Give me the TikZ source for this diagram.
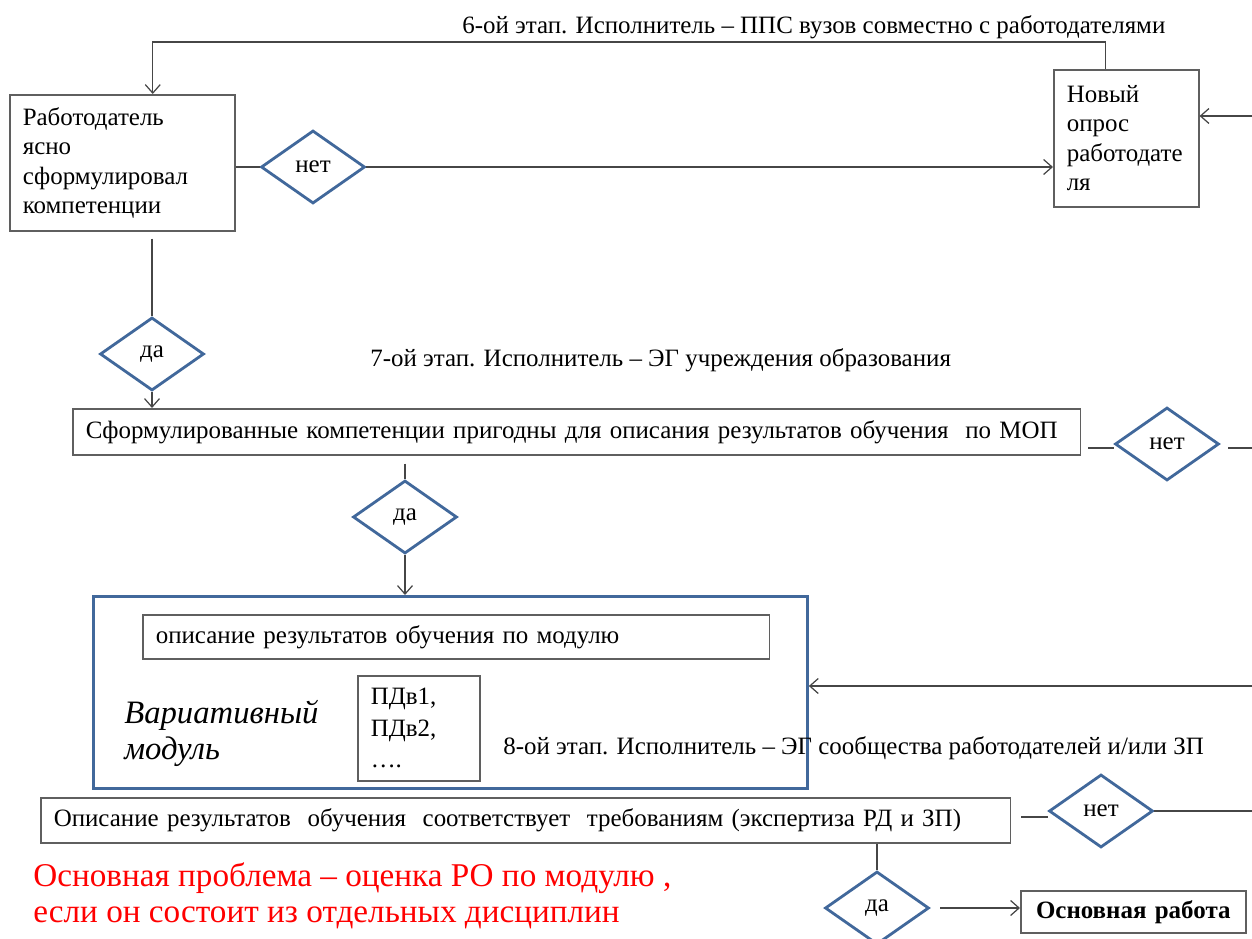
\documentclass[tikz,border=0pt]{standalone}
\usepackage{fontspec}
\setmainfont{Liberation Serif}
\usetikzlibrary{shapes.geometric,positioning,arrows.meta}
\definecolor{dblue}{RGB}{65,104,155}
\definecolor{bgray}{RGB}{95,95,95}
\definecolor{lgray}{RGB}{70,70,70}
\tikzset{
  box/.style={draw=bgray, line width=0.9pt, rectangle, anchor=north west, align=left, inner xsep=0.26cm, inner ysep=0pt},
  yesno/.style={draw=dblue, line width=1.6pt, diamond, minimum width=2.08cm, minimum height=1.46cm, inner sep=0pt},
  modbox/.style={draw=dblue, line width=1.7pt, rectangle, anchor=north west, inner sep=0pt},
  stage/.style={anchor=west, inner sep=0pt},
  link/.style={draw=lgray, line width=0.7pt},
  arr/.style={link, -{Straight Barb[length=0.17cm,width=0.3cm]}},
}
\begin{document}
\begin{tikzpicture}[x=0.02cm, y=-0.02cm, font=\fontsize{14.2}{16.8}\selectfont]
		\useasboundingbox (0,0) rectangle (1252,939);

		% 6-ой этап
		\node[stage] (st6) at (462,27) {6-ой этап. Исполнитель – ППС вузов совместно с работодателями};
		\node[box, text width=3.98cm, minimum height=2.72cm] (emp) at (9,94) {Работодатель\\ясно\\сформулировал\\компетенции};
		\node[box, text width=2.38cm, minimum height=2.74cm] (nb) at (1053,69) {Новый\\опрос\\работодате\\ля};
		\node[yesno] (no1) at (313,167) {нет};
		\coordinate (in1) at (1252,116);

		\draw[link] (no1.west -| emp.east) -- (no1.west);
		\draw[arr] (no1.east) -- (no1.east -| nb.west);
		\draw[arr] (in1) -- (in1 -| nb.east);
		\draw[arr] ([xshift=-0.41cm]nb.north) -- ++(0,-27) -| ([xshift=0.61cm]emp.north);

		% 7-ой этап
		\node[yesno] (yes1) at (152,354) {да};
		\node[stage] (st7) at (370,360) {7-ой этап. Исполнитель – ЭГ учреждения образования};
		\node[box, text width=19.64cm, minimum height=0.92cm] (mop) at (72,408) {Сформулированные компетенции пригодны для описания результатов обучения ~по МОП};
		\node[yesno] (no2) at (1167,444) {нет};
		\node[yesno] (yes2) at (405,517) {да};
		\coordinate (out2) at (1252,448);

		\draw[link] ([yshift=-0.14cm]yes1.north |- emp.south) -- (yes1.north);
		\draw[arr] (yes1.south) -- (yes1.south |- mop.north);
		\draw[link] ([xshift=0.14cm]mop.east |- out2) -- (no2.west |- out2);
		\draw[link] ([xshift=0.16cm]no2.east |- out2) -- (out2);
		\draw[link] ([yshift=-0.16cm]yes2.north |- mop.south) -- (yes2.north);

		% модуль
		\node[modbox, minimum width=14.28cm, minimum height=3.84cm] (mod) at (92,595) {};
		\node[box, text width=12.02cm, minimum height=0.88cm] (res) at (142,614) {описание результатов обучения по модулю};
		\node[anchor=west, align=left, inner sep=0pt, font=\fontsize{18.6}{20.5}\selectfont\itshape] (var) at (124,733) {Вариативный\\модуль};
		\node[box, text width=1.92cm, minimum height=2.1cm, font=\fontsize{14.2}{18}\selectfont] (pd) at (357,675) {ПДв1,\\ПДв2,\\….};
		\coordinate (in2) at (1252,686);

		\draw[arr] (yes2.south) -- (yes2.south |- mod.north);
		\draw[arr] (in2) -- (in2 -| mod.east);

		% 8-ой этап
		\node[stage] (st8) at (503,748) {8-ой этап. Исполнитель – ЭГ сообщества работодателей и/или ЗП};
		\node[box, text width=18.88cm, minimum height=0.9cm] (req) at (40,797) {Описание результатов ~обучения ~соответствует ~требованиям (экспертиза РД и ЗП)};
		\node[yesno] (no3) at (1101,811) {нет};
		\node[yesno] (yes3) at (877,908) {да};
		\node[box, align=center, text width=3.98cm, minimum height=0.84cm, font=\fontsize{14.2}{16.8}\selectfont\bfseries] (job) at (1020,890) {Основная работа};
		\coordinate (out3) at (1252,811);

		\draw[link] ([xshift=0.2cm]req.east |- 0,817) -- (no3.west |- 0,817);
		\draw[link] (no3.east) -- (out3);
		\draw[link] (yes3.north |- req.south) -- (yes3.north);
		\draw[arr] ([xshift=0.2cm]yes3.east) -- (yes3.east -| job.west);

		\node[anchor=north west, align=left, inner sep=0pt, text=red, font=\fontsize{18.9}{20.5}\selectfont] (prob) at (33,862) {Основная проблема – оценка РО по модулю ,\\если он состоит из отдельных дисциплин};
	\end{tikzpicture}
\end{document}
